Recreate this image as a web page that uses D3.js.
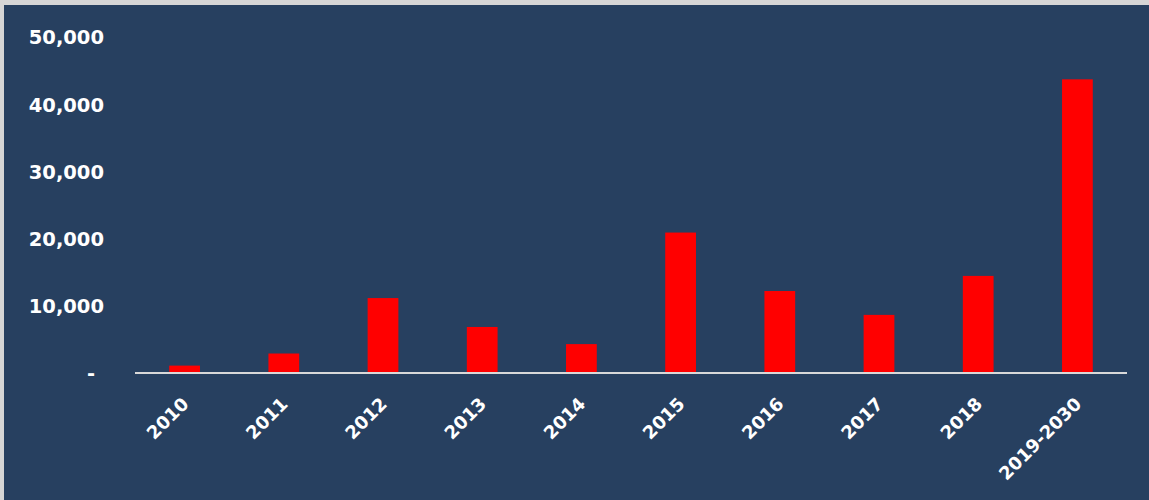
<!DOCTYPE html>
<html>
<head>
<meta charset="utf-8">
<script src="https://cdn.jsdelivr.net/npm/d3@7"></script>
<style>
  body { margin: 0; background: #fff; }
  svg { display: block; }
  text { font-family: "DejaVu Sans", sans-serif; font-weight: bold; fill: #fff; }
</style>
</head>
<body>
<div id="chart-area"></div>
<script>
// Data
// ****
const years = ["2010", "2011", "2012", "2013", "2014", "2015", "2016", "2017", "2018", "2019-2030"]
const values = [1100, 2900, 11150, 6850, 4300, 20900, 12200, 8650, 14450, 43700]
const yTicks = [0, 10000, 20000, 30000, 40000, 50000]

// Config
// ******
const W = 1149, H = 500
const svg = d3.select("#chart-area").append("svg").attr("width", W).attr("height", H)

// background + light frame on top / left
svg.append("rect").attr("width", W).attr("height", H).attr("fill", "#d6d6d6")
svg.append("rect").attr("x", 4).attr("y", 5).attr("width", W - 4).attr("height", H - 5).attr("fill", "#274060")

const x = d3.scaleBand().domain(years).range([135, 1127]).paddingInner(0.69).paddingOuter(0.345)
const y = d3.scaleLinear().domain([0, 50000]).range([373, 37])

// Bars
svg.selectAll("rect.bar").data(years).enter().append("rect")
	.attr("class", "bar")
	.attr("x", d => x(d))
	.attr("width", x.bandwidth())
	.attr("y", (d, i) => y(values[i]))
	.attr("height", (d, i) => y(0) - y(values[i]))
	.attr("fill", "#ff0000")

// Y Axis (labels only)
const yAxis = d3.axisLeft(y).tickValues(yTicks).tickSize(0).tickPadding(0)
	.tickFormat(d => d === 0 ? "-" : d3.format(",")(d))
const ya = svg.append("g").attr("transform", "translate(104,0)").call(yAxis)
ya.select(".domain").remove()
ya.selectAll("text")
	.attr("font-size", "19.5px")
	.attr("font-family", null)
	.attr("dy", "0.35em")
	.attr("dx", d => d === 0 ? -9 : 0)

// X Axis
const xAxis = d3.axisBottom(x).tickSize(0).tickPadding(0)
const xa = svg.append("g").attr("transform", "translate(0," + y(0) + ")").call(xAxis)
xa.select(".domain").attr("stroke", "#d9d9d9").attr("stroke-width", 2)
	.attr("d", "M" + x.range()[0] + ",0H" + x.range()[1])
xa.selectAll("text")
	.attr("font-size", "18px")
	.attr("font-family", null)
	.attr("text-anchor", "end")
	.attr("x", -19)
	.attr("y", 20)
	.attr("dy", "0.35em")
	.attr("transform", "rotate(-45)")
</script>
</body>
</html>
